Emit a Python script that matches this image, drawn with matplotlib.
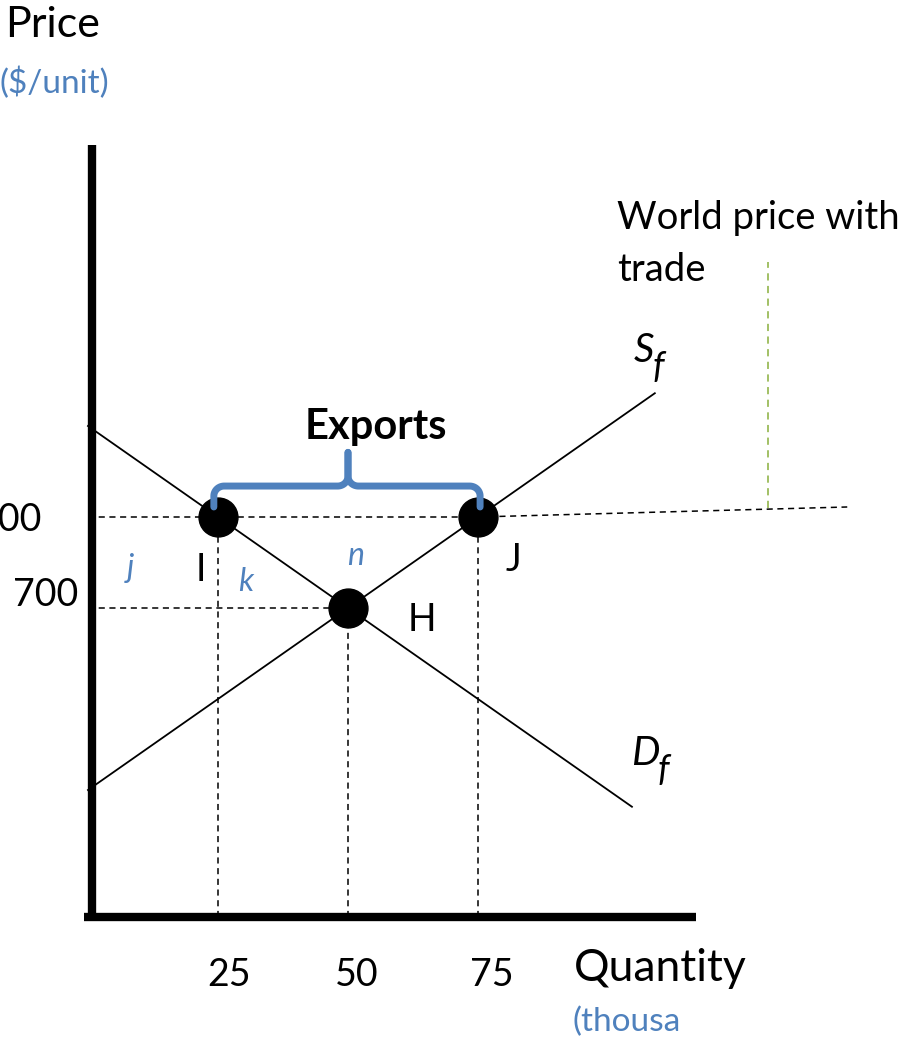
import numpy as np
import matplotlib.pyplot as plt

plt.rcParams['font.family'] = ['Lato', 'DejaVu Sans']

# Data (quantity in thousands, price in $/unit)
q_ticks = [25, 50, 75]
p_world = 800
p_autarky = 700
q_demand_world, q_eq, q_supply_world = 25, 50, 75

demand_q = [0, 104.6]
demand_p = [900 - 4 * q for q in demand_q]
supply_q = [0, 109]
supply_p = [500 + 4 * q for q in supply_q]

world_q = [0, 75, 146]
world_p = [800, 800, 811]

blue = '#4F81BD'

fig = plt.figure(figsize=(9.06, 10.43), dpi=100)
ax = fig.add_axes([0, 0, 1, 1])
ax.set_xlim(-16.92, 157.3)
ax.set_ylim(222.0, 1368.1)
ax.axis('off')


def pos(x, y):
    # place text by picture position
    return (x - 88) / 5.2, 700 + (608 - y) / 0.91


def label(x, y, s, **kw):
    kw.setdefault('va', 'center')
    kw.setdefault('ha', 'center')
    ax.text(*pos(x, y), s, **kw)


# axes
ax.plot([0.7, 0.7], [357, 1209], color='black', lw=6, solid_capstyle='butt')
ax.plot([-0.8, 117], [360.4, 360.4], color='black', lw=6, solid_capstyle='butt')

# curves
ax.plot(demand_q, demand_p, color='black', lw=1.3)
ax.plot(supply_q, supply_p, color='black', lw=1.3)

# dashed guides
dash = dict(color='black', lw=1.1, ls=(0, (4, 3)))
ax.plot(world_q[:2], world_p[:2], **dash)
ax.plot(world_q[1:], world_p[1:], **dash)
ax.plot([0, q_eq], [p_autarky, p_autarky], **dash)
for q, p in [(q_demand_world, p_world), (q_eq, p_autarky), (q_supply_world, p_world)]:
    ax.plot([q, q], [360.4, p], **dash)
ax.plot([130.8, 130.8], [810, 1080], color='#9BBB59', lw=1.3, ls=(0, (4, 3)))

# points
ax.plot([q_demand_world, q_eq, q_supply_world], [p_world, p_autarky, p_world],
        'o', color='black', markersize=28)

# brace over exports
ql, qr, qc = 24.2, 75.4, 50
pb, pbar, ptip = 811, 834, 871
rq, rp = 2.0, 11.0
t = np.linspace(0, np.pi / 2, 20)
for s, qe in [(1, ql), (-1, qr)]:
    xs = np.concatenate([[qe], qe + s * rq - s * rq * np.cos(t),
                         qc - s * rq + s * rq * np.sin(t), [qc]])
    ys = np.concatenate([[pb], pbar - rp + rp * np.sin(t),
                         pbar + rp - rp * np.cos(t), [ptip]])
    ax.plot(xs, ys, color=blue, lw=5, solid_capstyle='round', solid_joinstyle='round')

# labels
label(5, 25, 'Price', fontsize=31, ha='left')
label(0, 83, '($/unit)', fontsize=24, ha='left', color=blue)
label(78, 595, '700', fontsize=27, ha='right')
label(42, 520, '800', fontsize=27, ha='right')
for q, x in zip(q_ticks, [229, 357, 492]):
    label(x, 975, str(q), fontsize=27)
label(574, 968, 'Quantity', fontsize=32, ha='left')
label(572, 1022, '(thousa', fontsize=24, ha='left', color=blue)

label(617, 218, 'World price with', fontsize=27.5, ha='left')
label(617, 270, 'trade', fontsize=27.5, ha='left')
label(644, 351, 'S', fontsize=29, style='italic')
label(658, 368, 'f', fontsize=26, style='italic')
label(645, 753, 'D', fontsize=29, style='italic')
label(663, 770, 'f', fontsize=26, style='italic')
label(376, 427, 'Exports', fontsize=30, weight='bold')

label(201, 570, 'I', fontsize=27)
label(513, 560, 'J', fontsize=27)
label(422, 620, 'H', fontsize=27)
label(131, 568, 'j', fontsize=23, color=blue, style='italic')
label(246, 582, 'k', fontsize=23, color=blue, style='italic')
label(356, 556, 'n', fontsize=23, color=blue, style='italic')

fig.savefig('out.png', dpi=100)
